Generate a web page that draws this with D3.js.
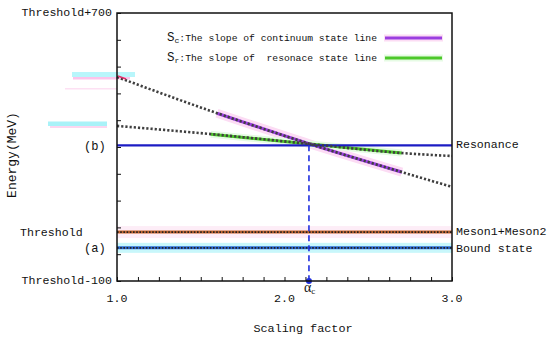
<!DOCTYPE html>
<html><head><meta charset="utf-8">
<script src="https://cdn.jsdelivr.net/npm/d3@7/dist/d3.min.js"></script>
<style>
body{margin:0;background:#fff}
text{font-family:"Liberation Mono","DejaVu Sans Mono",monospace;fill:#111}
</style>
</head><body>
<svg id="chart" width="550" height="340"></svg>
<script>
// ---------- data ----------
const xDomain = [1, 3];
const yDomain = [-100, 700];
const xTickLabels = ["1.0", "2.0", "3.0"];
const xTickLabelValues = [1, 2, 3];
const xMinorStep = 0.125;
const yTickStep = 80;
const yTickLabelValues = [700, -100];
const yTickLabels = ["Threshold+700", "Threshold-100"];

// continuum state (steep) dotted curve
const steepX = [1.0, 1.597, 2.152, 2.701, 3.0];
const steepY = [509, 401, 309, 225, 181];
// resonance state (shallow) dotted curve
const shallowX = [1.0, 1.615, 2.152, 2.70, 3.0];
const shallowY = [363, 336, 309, 282, 273];
// tangent segments (slopes)
const scX = [1.597, 2.152, 2.701];
const scY = [401, 309, 225];
const srX = [1.56, 2.152, 2.70];
const srY = [338, 309, 282];

const levelNames = ["Resonance", "Meson1+Meson2", "Bound state"];
const levelValues = [305, 46, -1];
const thresholdValue = 46;
const alphaC = 2.146;

// ---------- layout ----------
const svg = d3.select("#chart");
const pL = 117, pR = 452, pT = 13, pB = 281;
const x = d3.scaleLinear().domain(xDomain).range([pL, pR]);
const y = d3.scaleLinear().domain(yDomain).range([pB, pT]);
const font = 11.6;

// glow artifacts left of the axis (from the source image)
const glows = [
  {x0: 72, x1: 135, y0: 72, h: 5, c: "#b8f6fb"},
  {x0: 73, x1: 130, y0: 77, h: 2.5, c: "#fbc3ea"},
  {x0: 65, x1: 117, y0: 88, h: 1.5, c: "#fde0f3"},
  {x0: 48, x1: 107, y0: 121.5, h: 4.5, c: "#a9f2f8"},
  {x0: 50, x1: 107, y0: 126, h: 2, c: "#fcd6ef"}
];
svg.selectAll("rect.glow").data(glows).enter().append("rect")
  .attr("x", d => d.x0).attr("y", d => d.y0).attr("width", d => d.x1 - d.x0)
  .attr("height", d => d.h).attr("fill", d => d.c);

// bands behind threshold and bound-state lines
svg.append("rect").attr("x", pL).attr("width", pR - pL)
  .attr("y", y(levelValues[1]) - 6).attr("height", 12).attr("fill", "#fdedf7");
svg.append("rect").attr("x", pL).attr("width", pR - pL)
  .attr("y", y(levelValues[2]) - 5).attr("height", 10).attr("fill", "#c8f7fb");

const line = d3.line().x(d => x(d[0])).y(d => y(d[1])).curve(d3.curveMonotoneX);
const zip = (a, b) => a.map((v, i) => [v, b[i]]);

// slope segments with glow
svg.append("path").attr("d", line(zip(scX, scY))).attr("fill", "none")
  .attr("stroke", "#fcdcf4").attr("stroke-width", 9);
svg.append("path").attr("d", line(zip(srX, srY))).attr("fill", "none")
  .attr("stroke", "#e6fbe4").attr("stroke-width", 7);
svg.append("path").attr("d", line(zip(srX, srY))).attr("fill", "none")
  .attr("stroke", "#4cc829").attr("stroke-width", 3);
svg.append("path").attr("d", line(zip(scX, scY))).attr("fill", "none")
  .attr("stroke", "#9b3ee0").attr("stroke-width", 3.2);

// horizontal level lines
svg.append("line").attr("x1", pL).attr("x2", pR)
  .attr("y1", y(levelValues[0])).attr("y2", y(levelValues[0]))
  .attr("stroke", "#1c1cc4").attr("stroke-width", 2.2);
svg.append("line").attr("x1", pL).attr("x2", pR)
  .attr("y1", y(levelValues[1])).attr("y2", y(levelValues[1]))
  .attr("stroke", "#c8642c").attr("stroke-width", 3);
svg.append("line").attr("x1", pL).attr("x2", pR)
  .attr("y1", y(levelValues[1])).attr("y2", y(levelValues[1]))
  .attr("stroke", "#222").attr("stroke-width", 1.6).attr("stroke-dasharray", "1.6 1.6");
svg.append("line").attr("x1", pL).attr("x2", pR)
  .attr("y1", y(levelValues[2])).attr("y2", y(levelValues[2]))
  .attr("stroke", "#2a6ad6").attr("stroke-width", 3);
svg.append("line").attr("x1", pL).attr("x2", pR)
  .attr("y1", y(levelValues[2])).attr("y2", y(levelValues[2]))
  .attr("stroke", "#222").attr("stroke-width", 1.6).attr("stroke-dasharray", "1.6 1.6");

// dotted curves
[zip(steepX, steepY), zip(shallowX, shallowY)].forEach(pts => {
  svg.append("path").attr("d", line(pts)).attr("fill", "none")
    .attr("stroke", "#3f3f3f").attr("stroke-width", 2.6)
    .attr("stroke-dasharray", "2.2 2");
});
// small red mark at start of steep curve
svg.append("line").attr("x1", x(1) + 1).attr("y1", y(steepY[0]) - 1)
  .attr("x2", x(1) + 9).attr("y2", y(steepY[0]) + 2)
  .attr("stroke", "#e0306a").attr("stroke-width", 1.5);

// critical alpha dashed line
svg.append("line").attr("x1", x(alphaC)).attr("x2", x(alphaC))
  .attr("y1", y(levelValues[0])).attr("y2", pB)
  .attr("stroke", "#1f2fe0").attr("stroke-width", 1.6).attr("stroke-dasharray", "6 4");
svg.append("circle").attr("cx", x(alphaC)).attr("cy", pB).attr("r", 3).attr("fill", "#1f2fe0");

// axes (inward ticks)
const xMinor = d3.range(xDomain[0], xDomain[1] + 1e-9, xMinorStep);
svg.append("g").attr("transform", `translate(0,${pB})`)
  .call(d3.axisBottom(x).tickValues(xMinor).tickSize(-4).tickFormat(""))
  .call(g => g.select(".domain").remove())
  .selectAll("line").attr("stroke", "#111").attr("stroke-width", 1);
const yTicks = d3.range(yDomain[0], yDomain[1] + 1e-9, yTickStep);
svg.append("g").attr("transform", `translate(${pL},0)`)
  .call(d3.axisLeft(y).tickValues(yTicks).tickSize(-4).tickFormat(""))
  .call(g => g.select(".domain").remove())
  .selectAll("line").attr("stroke", "#111").attr("stroke-width", 1);

// frame
svg.append("rect").attr("x", pL).attr("y", pT).attr("width", pR - pL)
  .attr("height", pB - pT).attr("fill", "none").attr("stroke", "#111").attr("stroke-width", 1.5);

// tick labels
svg.selectAll("text.xl").data(xTickLabelValues).enter().append("text")
  .attr("x", d => x(d)).attr("y", 299).attr("text-anchor", "middle")
  .attr("dominant-baseline", "middle").attr("font-size", font)
  .text((d, i) => xTickLabels[i]);
svg.selectAll("text.yl").data(yTickLabelValues).enter().append("text")
  .attr("x", pL - 5).attr("y", d => y(d)).attr("text-anchor", "end")
  .attr("dominant-baseline", "middle").attr("font-size", font)
  .text((d, i) => yTickLabels[i]);
svg.append("text").attr("x", 20).attr("y", y(thresholdValue) + 1).attr("dominant-baseline", "middle")
  .attr("font-size", font).text("Threshold");
svg.append("text").attr("x", 84).attr("y", y(levelValues[2]) + 1).attr("dominant-baseline", "middle")
  .attr("font-size", font + 0.5).text("(a)");
svg.append("text").attr("x", 84).attr("y", y(levelValues[0]) + 1).attr("dominant-baseline", "middle")
  .attr("font-size", font + 0.5).text("(b)");

// right labels
svg.selectAll("text.rl").data(levelValues).enter().append("text")
  .attr("x", 456).attr("y", (d, i) => y(d) + (i === 2 ? 1 : 0)).attr("dominant-baseline", "middle")
  .attr("font-size", font).text((d, i) => levelNames[i]);

// alpha_c label
const al = svg.append("text").attr("x", x(alphaC) - 5).attr("y", 289).attr("dominant-baseline", "middle")
  .attr("font-size", 14).style("font-family", "'Liberation Serif',serif");
al.append("tspan").text("α");
al.append("tspan").attr("font-size", 9).attr("dy", 3).text("c");

// axis titles
svg.append("text").attr("x", 303).attr("y", 329).attr("text-anchor", "middle")
  .attr("dominant-baseline", "middle").attr("font-size", 11.8)
  .text("Scaling factor");
svg.append("text").attr("transform", "translate(13,155) rotate(-90)").attr("text-anchor", "middle")
  .attr("dominant-baseline", "middle").attr("font-size", 13)
  .text("Energy(MeV)");

// legend
const legendItems = [
  {s: "c", t: ":The slope of continuum state line", c: "#9b3ee0", glow: "#fcdcf4"},
  {s: "r", t: ":The slope of  resonace state line", c: "#4cc829", glow: "#e6fbe4"}
];
const lg = svg.selectAll("g.lg").data(legendItems).enter().append("g")
  .attr("transform", (d, i) => `translate(167,${38 + i * 20})`);
lg.append("text").attr("dominant-baseline", "middle").attr("font-size", 9.7).style("white-space", "pre")
  .each(function(d) {
    const t = d3.select(this);
    t.append("tspan").attr("font-size", 12.5).text("S");
    t.append("tspan").attr("font-size", 8).attr("dy", 3).text(d.s);
    t.append("tspan").attr("dy", -3).text(d.t);
  });
lg.append("line").attr("x1", 217).attr("x2", 276).attr("stroke", d => d.glow).attr("stroke-width", 7);
lg.append("line").attr("x1", 218).attr("x2", 275).attr("stroke", d => d.c).attr("stroke-width", 3);
</script>
</body></html>
